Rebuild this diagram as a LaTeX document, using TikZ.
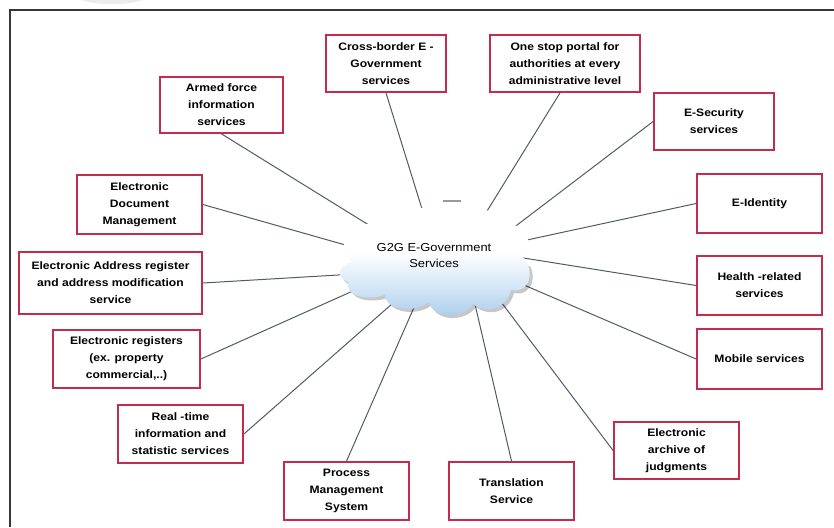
\documentclass[tikz,border=0pt]{standalone}
\usepackage{fontspec}
\setmainfont{Liberation Sans}[FakeStretch=1.12]
\definecolor{boxred}{RGB}{196,44,78}
\definecolor{linkgray}{RGB}{82,90,102}
\definecolor{cloudblue}{RGB}{166,203,236}
\definecolor{framegray}{RGB}{55,55,55}
\pgfdeclareverticalshading{cloudshade}{100bp}{color(0bp)=(cloudblue); color(25bp)=(cloudblue); color(40bp)=(cloudblue!45!white); color(54bp)=(white); color(100bp)=(white)}
% outline of the central cloud (y axis points down)
\newcommand\cloudoutline{(352,262) .. controls (332,248) and (350,218) .. (385,224)
  .. controls (392,205) and (430,203) .. (442,216)
  .. controls (460,203) and (500,206) .. (500,224)
  .. controls (525,220) and (537,245) .. (522,256)
  .. controls (536,270) and (530,294) .. (511,290)
  .. controls (506,310) and (485,314) .. (473,304)
  .. controls (462,320) and (432,318) .. (429,302)
  .. controls (416,313) and (386,311) .. (385,295)
  .. controls (366,301) and (345,296) .. (348,282)
  .. controls (335,278) and (338,265) .. cycle}
\begin{document}
\begin{tikzpicture}[x=1pt,y=-1pt,
  service/.style={draw=boxred, line width=1.8pt, fill=white, align=center,
    inner sep=2pt, font=\fontsize{10.8}{17}\selectfont\bfseries},
  link/.style={draw=linkgray, line width=1pt},
  hub/.style={align=center, font=\fontsize{11.5}{16}\selectfont}]
\useasboundingbox (0,0) rectangle (834,527);

% frame and faint mark at the top edge
\fill[gray!15] (112,-3) ellipse [x radius=34, y radius=7];
\draw[framegray, line width=2pt] (10,527) -- (10,10) -- (834,10);

% service boxes
\node[service, minimum width=120pt, minimum height=57pt] (cross) at (386,63.5) {Cross-border E -\\Government\\services};
\node[service, minimum width=150pt, minimum height=57pt] (portal) at (565,63.5) {One stop portal for\\authorities at every\\administrative level};
\node[service, minimum width=123pt, minimum height=56pt] (armed) at (221.5,105) {Armed force\\information\\services};
\node[service, minimum width=120pt, minimum height=57pt] (esec) at (714,121.5) {E-Security\\services};
\node[service, minimum width=125pt, minimum height=59pt] (edm) at (139.5,204.5) {Electronic\\Document\\Management};
\node[service, minimum width=125pt, minimum height=59pt] (eid) at (759.5,203.5) {E-Identity};
\node[service, minimum width=183pt, minimum height=62pt] (addr) at (110.5,283) {Electronic Address register\\and address modification\\service};
\node[service, minimum width=125pt, minimum height=59pt] (health) at (759.5,285.5) {Health -related\\services};
\node[service, minimum width=147pt, minimum height=58pt] (reg) at (126.5,359) {Electronic registers\\(ex. property\\commercial,..)};
\node[service, minimum width=125pt, minimum height=60pt] (mobile) at (759.5,359) {Mobile services};
\node[service, minimum width=125pt, minimum height=58pt] (real) at (180.5,434) {Real -time\\information and\\statistic services};
\node[service, minimum width=125pt, minimum height=58pt] (process) at (346.5,491) {Process\\Management\\System};
\node[service, minimum width=125pt, minimum height=58pt] (trans) at (511.5,491) {Translation\\Service};
\node[service, minimum width=125pt, minimum height=57pt] (archive) at (676.5,450.5) {Electronic\\archive of\\judgments};

% points just inside the cloud where the connectors end
\coordinate (h-cross) at (427,225);
\coordinate (h-portal) at (479,224);
\coordinate (h-armed) at (372,227);
\coordinate (h-esec) at (500,238);
\coordinate (h-edm) at (370,252);
\coordinate (h-eid) at (513,243);
\coordinate (h-addr) at (355,274);
\coordinate (h-health) at (511,256);
\coordinate (h-reg) at (364,286);
\coordinate (h-mobile) at (503,276);
\coordinate (h-real) at (401,296);
\coordinate (h-process) at (419,296);
\coordinate (h-trans) at (474,300);
\coordinate (h-archive) at (492,290);

% connectors
\draw[link] (cross.south) -- (h-cross);
\draw[link] ([xshift=-5pt]portal.south) -- (h-portal);
\draw[link] (armed.south) -- (h-armed);
\draw[link] (esec.west) -- (h-esec);
\draw[link] (edm.east) -- (h-edm);
\draw[link] (eid.west) -- (h-eid);
\draw[link] (addr.east) -- (h-addr);
\draw[link] (health.west) -- (h-health);
\draw[link] (reg.east) -- (h-reg);
\draw[link] (mobile.west) -- (h-mobile);
\draw[link] (real.east) -- (h-real);
\draw[link] (process.north) -- (h-process);
\draw[link] (trans.north) -- (h-trans);
\draw[link] (archive.west) -- (h-archive);

% central cloud with a shadow along its lower edge
\begin{scope}
  \clip (330,266) rectangle (545,330);
  \fill[black, opacity=0.22, shift={(3,3)}] \cloudoutline;
\end{scope}
\shade[shading=cloudshade] \cloudoutline;
\draw[gray!80, line width=1.2pt] (443,201) -- (461,201);
\node[hub] (hubtext) at (434,256) {G2G E-Government\\Services};
\end{tikzpicture}
\end{document}
